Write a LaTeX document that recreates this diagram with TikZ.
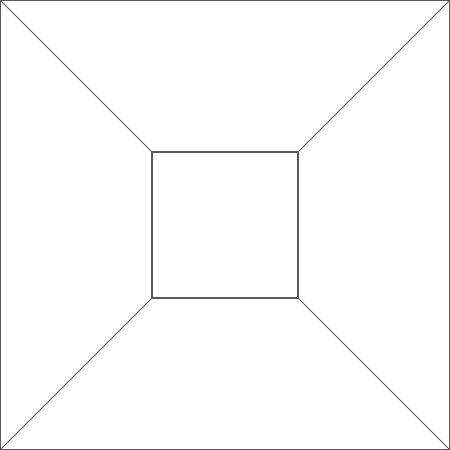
\documentclass[tikz,border=0pt]{standalone}
\usepackage{tikz}
\usetikzlibrary{calc}

\begin{document}
\begin{tikzpicture}[edge/.style={draw=gray!70!black, line width=0.3pt}]

   \useasboundingbox (0,0) rectangle (4.5,4.5);

   \coordinate (o0) at (0, 4.5);
   \coordinate (o1) at (4.5, 4.5);
   \coordinate (o2) at (4.5, 0);
   \coordinate (o3) at (0, 0);

   \coordinate (i0) at (1.52, 2.98);
   \coordinate (i1) at (2.98, 2.98);
   \coordinate (i2) at (2.98, 1.52);
   \coordinate (i3) at (1.52, 1.52);

  \draw[edge] (o0)--(o1)--(o2)--(o3)--cycle;
  \draw[edge] (i0)--(i1)--(i2)--(i3)--cycle;
  \draw[edge] (o0)--(i0);
  \draw[edge] (o1)--(i1);
  \draw[edge] (o2)--(i2);
  \draw[edge] (o3)--(i3);
\end{tikzpicture}
\end{document}
